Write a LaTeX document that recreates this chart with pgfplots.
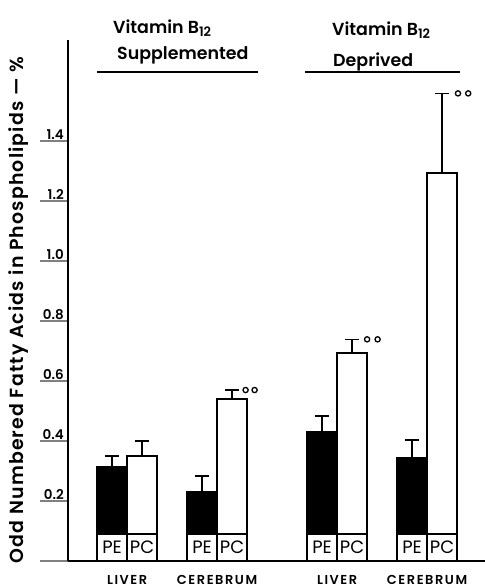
\documentclass[border=0pt]{standalone}
\usepackage{fontspec}
\setmainfont{Poppins}[BoldFont={* SemiBold}]
\usepackage{pgfplots}
\pgfplotsset{compat=1.18}

\newcommand{\Btw}{B\raisebox{-0.35ex}{\fontsize{13}{13}\selectfont 12}}

\begin{document}
\begin{tikzpicture}
\begin{axis}[
  scale only axis, width=417bp, height=521bp,
  xmin=-1.47, xmax=12.43, ymin=0, ymax=1.737,
  axis x line*=bottom, axis y line*=left,
  axis line style={line width=1.6bp},
  clip=false,
  xtick=\empty,
  ytick={0,0.2,0.4,0.6,0.8,1.0,1.2,1.4},
  yticklabels={{},0.2,0.4,0.6,0.8,1.0,1.2,1.4},
  tick align=outside, major tick length=28bp,
  ytick style={line width=1.6bp},
  yticklabel style={font=\fontsize{13.5}{14}\selectfont\bfseries, anchor=south east, inner sep=1bp, xshift=25bp},
]
% PE bars (black) with upward error bars
\addplot[ybar, bar width=1, bar shift=0pt, fill=black, draw=black, line width=1.4bp,
  error bars/.cd, y dir=plus, y explicit,
  error bar style={line width=1.6bp},
  error mark options={rotate=90, mark size=7bp, line width=1.6bp}]
  coordinates {(0,0.313) +- (0,0.037) (3,0.230) +- (0,0.053) (7,0.432) +- (0,0.051) (10,0.345) +- (0,0.058)};
% PC bars (white)
\addplot[ybar, bar width=1, bar shift=0pt, fill=white, draw=black, line width=1.4bp,
  error bars/.cd, y dir=plus, y explicit,
  error bar style={line width=1.6bp},
  error mark options={rotate=90, mark size=7bp, line width=1.6bp}]
  coordinates {(1,0.350) +- (0,0.050) (4,0.540) +- (0,0.030) (8,0.694) +- (0,0.045) (11,1.294) +- (0,0.265)};
% label boxes at the foot of each bar
\addplot[ybar, bar width=1, bar shift=0pt, fill=white, draw=black, line width=1.4bp]
  coordinates {(0,0.09) (1,0.09) (3,0.09) (4,0.09) (7,0.09) (8,0.09) (10,0.09) (11,0.09)};
\addplot[draw=none, mark=none, nodes near coords, point meta=explicit symbolic,
  nodes near coords style={anchor=center, inner sep=0pt, font=\fontsize{18}{18}\selectfont}]
  coordinates {(0,0.045)[PE] (1,0.045)[PC] (3,0.045)[PE] (4,0.045)[PC]
               (7,0.045)[PE] (8,0.045)[PC] (10,0.045)[PE] (11,0.045)[PC]};
% tissue names under each pair
\addplot[draw=none, mark=none, nodes near coords, point meta=explicit symbolic,
  nodes near coords style={anchor=center, inner sep=0pt, yshift=-19bp,
    font=\fontsize{13}{13}\selectfont\bfseries\addfontfeature{LetterSpace=12}}]
  coordinates {(0.5,0)[LIVER] (3.5,0)[CEREBRUM] (7.5,0)[LIVER] (10.5,0)[CEREBRUM]};
% significance marks
\addplot[only marks, mark=o, mark size=2.6bp, line width=1.3bp]
  coordinates {(4.45,0.570) (4.75,0.570) (8.50,0.739) (8.85,0.739) (11.53,1.559) (11.87,1.559)};
\coordinate (bl) at (rel axis cs:0,0);
\end{axis}
\begin{scope}[font=\fontsize{17.5}{18}\selectfont\bfseries]
\node[anchor=west, inner sep=0pt] at ([shift={(45bp,533bp)}]bl) {Vitamin \Btw};
\node[anchor=west, inner sep=0pt] at ([shift={(49bp,506bp)}]bl) {Supplemented};
\draw[line width=1.4bp] ([shift={(29bp,489bp)}]bl) -- ([shift={(190bp,489bp)}]bl);
\node[anchor=west, inner sep=0pt] at ([shift={(264bp,531bp)}]bl) {Vitamin \Btw};
\node[anchor=west, inner sep=0pt] at ([shift={(265bp,499bp)}]bl) {Deprived};
\draw[line width=1.4bp] ([shift={(237bp,489bp)}]bl) -- ([shift={(392bp,489bp)}]bl);
\node[rotate=90, inner sep=0pt] at ([shift={(-49bp,251bp)}]bl)
  {\fontsize{19}{19}\selectfont\addfontfeature{LetterSpace=6}Odd Numbered Fatty Acids in Phospholipids --- \%};
\end{scope}
\pgfresetboundingbox
\path ([shift={(-68bp,-27bp)}]bl) rectangle ([shift={(417bp,561bp)}]bl);
\end{tikzpicture}
\end{document}
